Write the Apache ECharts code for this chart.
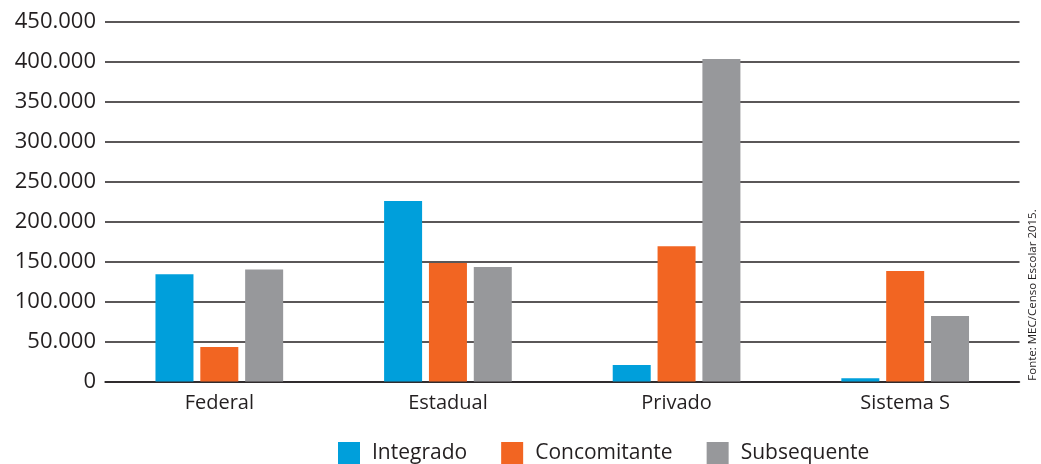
<!DOCTYPE html>
<html>
<head>
<meta charset="utf-8">
<script src="https://cdn.jsdelivr.net/npm/echarts@6/dist/echarts.min.js"></script>
<style>html,body{margin:0;padding:0;background:#fff;}#c{width:1041px;height:464px;}</style>
</head>
<body>
<div id="c"></div>
<script>
const categories = ['Federal', 'Estadual', 'Privado', 'Sistema S'];
const integrado = [134000, 225500, 20500, 4000];
const concomitante = [43000, 148000, 169000, 138000];
const subsequente = [140000, 143000, 403000, 82000];
const seriesNames = ['Integrado', 'Concomitante', 'Subsequente'];
const sourceNote = 'Fonte: MEC/Censo Escolar 2015.';

const FONT = '"Open Sans", "Noto Sans", sans-serif';
function fmt(v) { return String(v).replace(/\B(?=(\d{3})+(?!\d))/g, '.'); }

const chart = echarts.init(document.getElementById('c'), null, {renderer: 'canvas'});
const colors = ['#009fdb', '#f26522', '#97989b'];
const mk = (name, data, i) => ({
  name, type: 'bar', data,
  barWidth: 38, barGap: '18%',
  itemStyle: {color: colors[i]}
});
chart.setOption({
  animation: false,
  color: colors,
  grid: {left: 105, right: 21.5, top: 21.5, bottom: 82.5, containLabel: false},
  xAxis: {
    type: 'category', data: categories,
    axisLine: {show: true, lineStyle: {color: '#231f20', width: 1.5}},
    axisTick: {show: false},
    axisLabel: {color: '#231f20', fontSize: 20, fontFamily: FONT, margin: 12}
  },
  yAxis: {
    type: 'value', min: 0, max: 450000, interval: 50000,
    axisLine: {show: false}, axisTick: {show: false},
    axisLabel: {color: '#231f20', fontSize: 22, fontFamily: FONT, margin: 9, formatter: fmt},
    splitLine: {lineStyle: {color: '#231f20', width: 1.5}}
  },
  legend: {
    left: 338, top: 442, padding: 0, itemWidth: 22, itemHeight: 22, itemGap: 34,
    icon: 'rect',
    textStyle: {color: '#231f20', fontSize: 21, fontFamily: FONT, padding: [0, 0, 0, 7]},
    data: seriesNames
  },
  graphic: [{
    type: 'text', x: 1033, y: 295, rotation: Math.PI / 2,
    style: {text: sourceNote, fill: '#231f20', fontSize: 11.5, fontFamily: FONT,
            textAlign: 'center', textVerticalAlign: 'middle'}
  }],
  series: [mk(seriesNames[0], integrado, 0), mk(seriesNames[1], concomitante, 1), mk(seriesNames[2], subsequente, 2)]
});
</script>
</body>
</html>
